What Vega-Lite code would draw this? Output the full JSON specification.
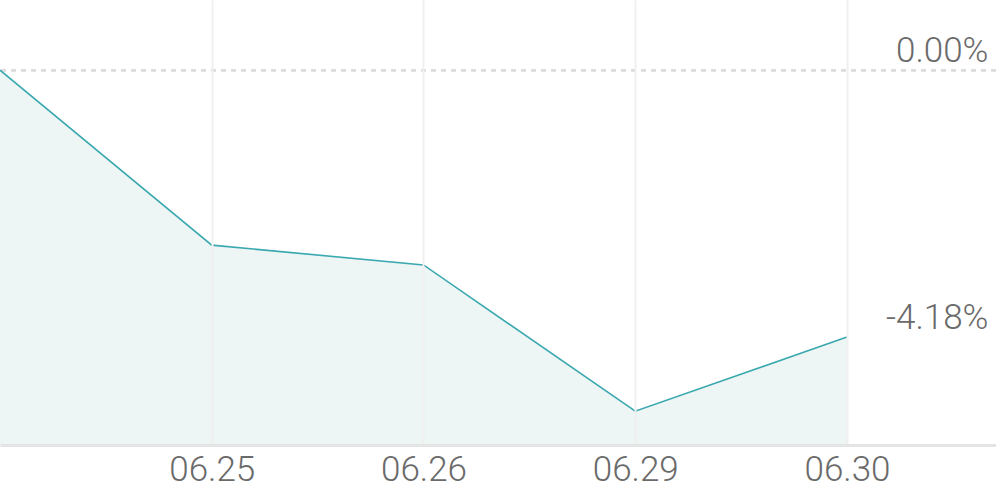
{
  "$schema": "https://vega.github.io/schema/vega-lite/v6.json",
  "width": 996,
  "height": 445,
  "padding": {"left": 0, "top": 0, "right": 0, "bottom": 45},
  "autosize": {"type": "none"},
  "background": "white",
  "config": {"view": {"stroke": null}, "font": "Roboto"},
  "data": {
    "values": [
      {"idx": 0, "date": "06.24", "pct": 0.0},
      {"idx": 1, "date": "06.25", "pct": -2.74},
      {"idx": 2, "date": "06.26", "pct": -3.05},
      {"idx": 3, "date": "06.29", "pct": -5.34},
      {"idx": 4, "date": "06.30", "pct": -4.18}
    ]
  },
  "layer": [
    {
      "mark": {"type": "area", "color": "#edf6f5", "opacity": 1},
      "encoding": {
        "x": {
          "field": "idx",
          "type": "quantitative",
          "scale": {"domain": [0, 4.7037], "nice": false, "zero": false},
          "axis": {
            "values": [1, 2, 3, 4],
            "title": null,
            "zindex": 1,
            "grid": true,
            "gridColor": "#f0f0f0",
            "gridWidth": 2,
            "ticks": false,
            "domain": true,
            "domainColor": "#e4e4e4",
            "domainWidth": 3,
            "labelExpr": "['06.24','06.25','06.26','06.29','06.30'][datum.value]",
            "labelFont": "Roboto",
            "labelFontWeight": 300,
            "labelFontSize": 35,
            "labelColor": "#6a6a6a",
            "labelPadding": 7,
            "labelFlush": false,
            "labelOverlap": false
          }
        },
        "y": {
          "field": "pct",
          "type": "quantitative",
          "scale": {"domain": [-5.87, 1.1], "nice": false, "zero": false},
          "axis": {
            "orient": "right",
            "values": [0, -4.18],
            "title": null,
            "grid": false,
            "ticks": false,
            "tickSize": 0,
            "domain": false,
            "labelExpr": "replace(format(datum.value, '.2f'), '\u2212', '-') + '%'",
            "labelAlign": "right",
            "labelBaseline": "alphabetic",
            "labelOffset": -9,
            "labelPadding": -8,
            "labelFont": "Roboto",
            "labelFontWeight": 300,
            "labelFontSize": 35,
            "labelColor": "#6a6a6a",
            "labelFlush": false,
            "labelOverlap": false
          }
        },
        "y2": {"datum": -5.87}
      }
    },
    {
      "mark": {"type": "rule", "color": "#dcdcdc", "strokeDash": [5, 5], "strokeWidth": 2},
      "encoding": {"y": {"datum": 0, "type": "quantitative"}}
    },
    {
      "mark": {"type": "line", "color": "#3aa8af", "strokeWidth": 1.6},
      "encoding": {
        "x": {"field": "idx", "type": "quantitative"},
        "y": {"field": "pct", "type": "quantitative"}
      }
    }
  ]
}
